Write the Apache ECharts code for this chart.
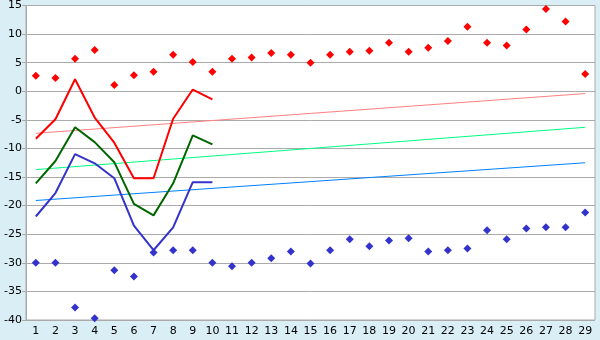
<!DOCTYPE html>
<html><head><meta charset="utf-8">
<script src="https://cdn.jsdelivr.net/npm/echarts@6/dist/echarts.min.js"></script>
<style>html,body{margin:0;padding:0;background:#daeef5;}#c{width:600px;height:340px;}</style>
</head><body><div id="c"></div>
<script>
var categories = [];
for (var i = 1; i <= 29; i++) categories.push(String(i));
var redPoints = [2.7,2.3,5.7,7.2,1.1,2.8,3.4,6.4,5.1,3.4,5.7,5.9,6.7,6.4,5.0,6.4,6.9,7.1,8.5,6.9,7.6,8.8,11.3,8.5,8.0,10.8,14.4,12.2,3.0];
var bluePoints = [-30,-30,-37.8,-39.7,-31.3,-32.4,-28.2,-27.8,-27.8,-30,-30.6,-30,-29.2,-28.0,-30.1,-27.8,-25.9,-27.1,-26.1,-25.7,-28.0,-27.8,-27.5,-24.3,-25.9,-24.0,-23.8,-23.8,-21.2];
var redLine = [-8.3,-4.9,2.1,-4.6,-9.0,-15.2,-15.2,-4.8,0.3,-1.4];
var greenLine = [-16.1,-12.2,-6.3,-8.9,-12.4,-19.7,-21.7,-16.1,-7.7,-9.3];
var blueLine = [-21.9,-17.8,-11.0,-12.6,-15.2,-23.5,-27.8,-23.8,-15.9,-15.9];
var redTrend = [-7.35, -0.4];
var greenTrend = [-13.7, -6.3];
var blueTrend = [-19.1, -12.5];

function endpoints(t){ return [[0, t[0]], [categories.length - 1, t[1]]]; }

var chart = echarts.init(document.getElementById('c'));
var font = 'DejaVu Sans';
chart.setOption({
  animation: false,
  backgroundColor: '#daeef5',
  grid: {left: 26, top: 5, right: 5, bottom: 20, show: true, backgroundColor: '#fff', borderColor: '#aaaaaa', borderWidth: 1, containLabel: false},
  xAxis: {
    type: 'category', data: categories, boundaryGap: true,
    axisLine: {lineStyle: {color: '#aaaaaa'}},
    axisTick: {alignWithLabel: true, length: 4, lineStyle: {color: '#000'}},
    axisLabel: {color: '#000', fontFamily: font, fontSize: 11, margin: 6, interval: 0},
    splitLine: {show: false}
  },
  yAxis: {
    type: 'value', min: -40, max: 15, interval: 5,
    axisLine: {show: true, lineStyle: {color: '#aaaaaa'}},
    axisTick: {show: true, length: 4, lineStyle: {color: '#aaaaaa'}},
    axisLabel: {color: '#000', fontFamily: font, fontSize: 11, margin: 4},
    splitLine: {lineStyle: {color: '#aaaaaa', width: 1}}
  },
  series: [
    {type: 'line', data: endpoints(redTrend), symbol: 'none', lineStyle: {color: '#ff8080', width: 1}},
    {type: 'line', data: endpoints(greenTrend), symbol: 'none', lineStyle: {color: '#00ff80', width: 1}},
    {type: 'line', data: endpoints(blueTrend), symbol: 'none', lineStyle: {color: '#0080ff', width: 1}},
    {type: 'line', data: redLine, symbol: 'none', lineStyle: {color: '#ff0000', width: 2}},
    {type: 'line', data: greenLine, symbol: 'none', lineStyle: {color: '#006600', width: 2}},
    {type: 'line', data: blueLine, symbol: 'none', lineStyle: {color: '#3333cc', width: 2}},
    {type: 'scatter', data: redPoints, symbol: 'diamond', symbolSize: 8, itemStyle: {color: '#ff0000', opacity: 1}},
    {type: 'scatter', data: bluePoints, symbol: 'diamond', symbolSize: 8, itemStyle: {color: '#3333cc', opacity: 1}}
  ]
});
</script></body></html>
